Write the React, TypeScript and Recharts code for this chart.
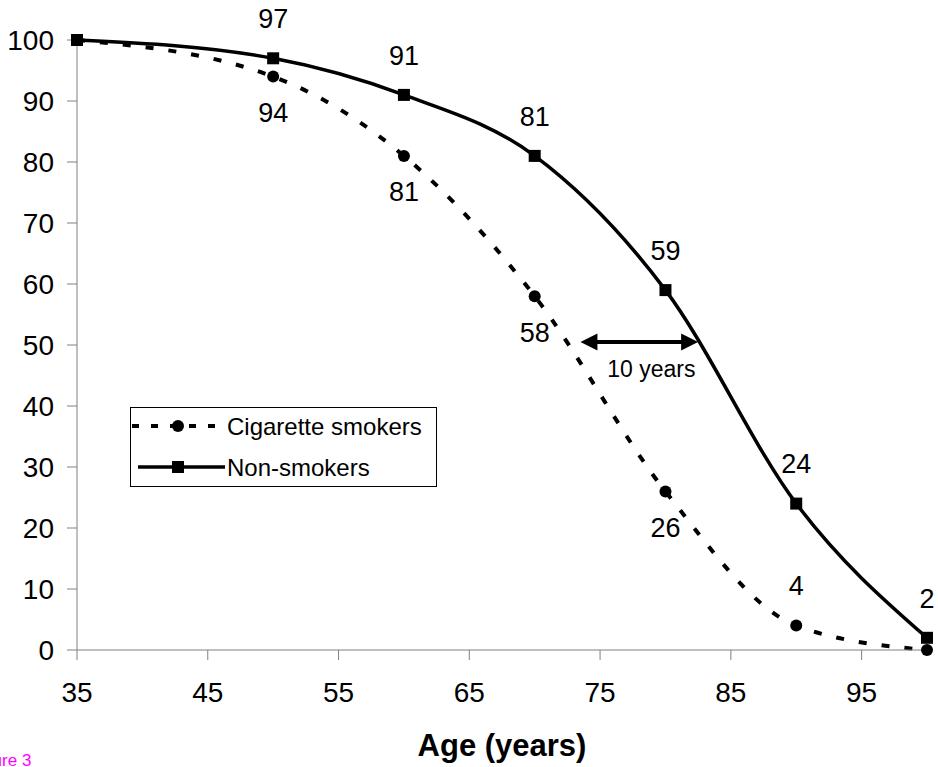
import React from 'react';
import { LineChart, Line, XAxis, YAxis, Legend, ReferenceLine, LabelList } from 'recharts';

const ages = [35, 50, 60, 70, 80, 90, 100];
const smokers = [100, 94, 81, 58, 26, 4, 0];
const nonSmokers = [100, 97, 91, 81, 59, 24, 2];
const smokerLabels = ['', '94', '81', '58', '26', '4', ''];
const nonSmokerLabels = ['', '97', '91', '81', '59', '24', '2'];
const xTicks = [35, 45, 55, 65, 75, 85, 95];
const yTicks = [0, 10, 20, 30, 40, 50, 60, 70, 80, 90, 100];
const seriesNames = ['Cigarette smokers', 'Non-smokers'];
const xAxisTitle = 'Age (years)';
const gapStart = 73.5;
const gapEnd = 82.5;
const gapLevel = 50.5;
const gapLabel = '10 years';
const figureCaption = 'Figure 3';

const data = ages.map((age, i) => ({ age, smokers: smokers[i], nonSmokers: nonSmokers[i] }));

const FONT = "Arial, 'Liberation Sans', sans-serif";
const AXIS_GREY = '#808080';

const CircleDot = (p: any) => {
  if (p.cx == null || p.cy == null) return <g key={`c-${p.index}`} />;
  return <circle key={`c-${p.index}`} cx={p.cx} cy={p.cy} r={6} fill="#000" />;
};

const SquareDot = (p: any) => {
  if (p.cx == null || p.cy == null) return <g key={`s-${p.index}`} />;
  return <rect key={`s-${p.index}`} x={p.cx - 6} y={p.cy - 6} width={12} height={12} fill="#000" />;
};

const makeLabel = (labels: string[], values: number[], defaultBelow: boolean) => (p: any) => {
  const i = p.index;
  const txt = labels[i];
  if (!txt || p.x == null || p.y == null) return null;
  const below = defaultBelow && values[i] >= 10;
  const y = below ? p.y + 45.5 : p.y - 30.3;
  return (
    <text key={`l-${i}`} x={p.x} y={y} textAnchor="middle" fontSize={27} fontFamily={FONT} fill="#000">
      {txt}
    </text>
  );
};

const ArrowShape = (p: any) => {
  const { x1, y1, x2, y2 } = p;
  if (x1 == null || x2 == null) return null;
  const L = 17;
  const H = 8.5;
  return (
    <g>
      <line x1={x1 + L - 2} y1={y1} x2={x2 - L + 2} y2={y2} stroke="#000" strokeWidth={4} />
      <polygon points={`${x1},${y1} ${x1 + L},${y1 - H} ${x1 + L},${y1 + H}`} fill="#000" />
      <polygon points={`${x2},${y2} ${x2 - L},${y2 - H} ${x2 - L},${y2 + H}`} fill="#000" />
      <text x={(x1 + x2) / 2 + 12} y={y1 + 35} textAnchor="middle" fontSize={23} fontFamily={FONT} fill="#000">
        {gapLabel}
      </text>
    </g>
  );
};

const LegendBox = () => (
  <svg width={307} height={80} style={{ display: 'block' }}>
    <rect x={0.5} y={0.5} width={306} height={79} fill="#fff" stroke="#000" strokeWidth={1} />
    <line x1={2} y1={19} x2={95} y2={19} stroke="#000" strokeWidth={4} strokeDasharray="7 12" />
    <circle cx={48} cy={19} r={6} fill="#000" />
    <text x={97} y={27.6} fontSize={24} fontFamily={FONT} fill="#000">{seriesNames[0]}</text>
    <line x1={8} y1={60} x2={95} y2={60} stroke="#000" strokeWidth={3.5} />
    <rect x={42} y={54} width={12} height={12} fill="#000" />
    <text x={97} y={68.6} fontSize={24} fontFamily={FONT} fill="#000">{seriesNames[1]}</text>
  </svg>
);

export default function App() {
  return (
    <div style={{ position: 'absolute', left: 0, top: 0, width: 938, height: 767, overflow: 'hidden', background: '#fff' }}>
      <LineChart width={938} height={767} data={data} margin={{ top: 40, right: 11, bottom: 0, left: 0 }}>
        <XAxis
          dataKey="age"
          type="number"
          domain={[35, 100]}
          ticks={xTicks}
          height={117}
          tickSize={10}
          tickMargin={22}
          stroke={AXIS_GREY}
          tick={{ fill: '#000', fontSize: 28, fontFamily: FONT }}
          tickLine={{ stroke: AXIS_GREY }}
          label={{ value: xAxisTitle, position: 'insideBottom', offset: 11, fontSize: 31, fontWeight: 'bold', fontFamily: FONT, fill: '#000' }}
        />
        <YAxis
          type="number"
          domain={[0, 100]}
          ticks={yTicks}
          width={77}
          tickSize={10}
          tickMargin={13}
          stroke={AXIS_GREY}
          tick={{ fill: '#000', fontSize: 28, fontFamily: FONT }}
          tickLine={{ stroke: AXIS_GREY }}
        />
        <Legend
          layout="horizontal"
          verticalAlign="middle"
          align="center"
          content={() => <LegendBox />}
          wrapperStyle={{ position: 'absolute', left: 130, top: 407, width: 307, height: 80 }}
        />
        <Line
          type="monotone"
          dataKey="smokers"
          name={seriesNames[0]}
          stroke="#000"
          strokeWidth={4}
          strokeDasharray="8 15"
          dot={CircleDot}
          activeDot={false}
          isAnimationActive={false}
        >
          <LabelList dataKey="smokers" content={makeLabel(smokerLabels, smokers, true)} />
        </Line>
        <Line
          type="monotone"
          dataKey="nonSmokers"
          name={seriesNames[1]}
          stroke="#000"
          strokeWidth={3.5}
          dot={SquareDot}
          activeDot={false}
          isAnimationActive={false}
        >
          <LabelList dataKey="nonSmokers" content={makeLabel(nonSmokerLabels, nonSmokers, false)} />
        </Line>
        <ReferenceLine
          segment={[{ x: gapStart, y: gapLevel }, { x: gapEnd, y: gapLevel }]}
          shape={ArrowShape}
          ifOverflow="visible"
        />
      </LineChart>
      <div
        style={{
          position: 'absolute',
          left: -31,
          top: 752,
          fontFamily: FONT,
          fontSize: 17,
          lineHeight: '17px',
          color: '#FF00FF',
          whiteSpace: 'nowrap',
        }}
      >
        {figureCaption}
      </div>
    </div>
  );
}
